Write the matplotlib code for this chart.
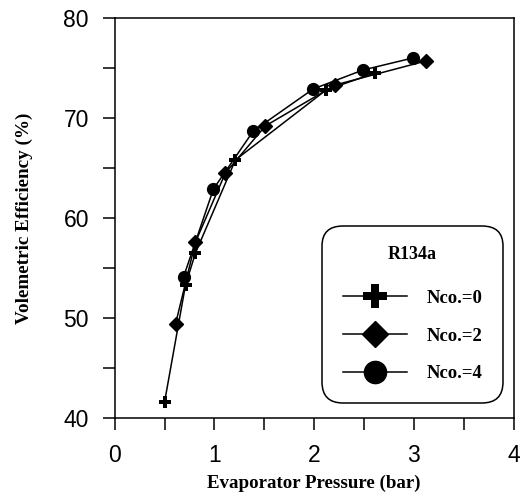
import matplotlib.pyplot as plt
from matplotlib.lines import Line2D
from matplotlib.ticker import MultipleLocator

x_nco0 = [0.50, 0.71, 0.81, 1.21, 2.12, 2.61]
y_nco0 = [41.6, 53.3, 56.5, 65.8, 72.8, 74.5]
x_nco2 = [0.61, 0.81, 1.11, 1.51, 2.21, 3.12]
y_nco2 = [49.4, 57.6, 64.5, 69.2, 73.3, 75.7]
x_nco4 = [0.69, 0.99, 1.39, 1.99, 2.49, 2.99]
y_nco4 = [54.1, 62.9, 68.7, 72.9, 74.8, 76.0]
labels = ['Nco.=0', 'Nco.=2', 'Nco.=4']

serif = 'Liberation Serif'
sans = 'Liberation Sans'

fig = plt.figure(figsize=(5.23, 4.95), dpi=100)
ax = fig.add_axes([0.2193, 0.1556, 0.7629, 0.8081])

ax.plot(x_nco0, y_nco0, color='black', lw=1.1, marker='P', ms=9, mew=0)
ax.plot(x_nco2, y_nco2, color='black', lw=1.1, marker='D', ms=7)
ax.plot(x_nco4, y_nco4, color='black', lw=1.1, marker='o', ms=8.5)

ax.set_xlim(0, 4)
ax.set_ylim(40, 80)
ax.xaxis.set_major_locator(MultipleLocator(1))
ax.xaxis.set_minor_locator(MultipleLocator(0.5))
ax.yaxis.set_major_locator(MultipleLocator(10))
ax.yaxis.set_minor_locator(MultipleLocator(5))
ax.tick_params(which='both', direction='out', length=8.5, width=1.1, pad=10,
               labelsize=16.5)
for t in ax.get_xticklabels() + ax.get_yticklabels():
    t.set_fontfamily(sans)
for s in ax.spines.values():
    s.set_linewidth(1.1)

ax.set_xlabel('Evaporator Pressure (bar)', fontfamily=serif, fontweight='bold',
              fontsize=13.6, labelpad=6)
ax.set_ylabel('Volemetric Efficiency (%)', fontfamily=serif, fontweight='bold',
              fontsize=13.8, labelpad=22)

handles = [
    Line2D([], [], color='black', lw=1.1, marker='P', ms=17, mew=0),
    Line2D([], [], color='black', lw=1.1, marker='D', ms=13),
    Line2D([], [], color='black', lw=1.1, marker='o', ms=16),
]
leg = ax.legend(handles, labels, title='R134a', loc='lower right',
                bbox_to_anchor=(0.973, 0.0375), borderaxespad=0,
                prop={'family': serif, 'weight': 'bold', 'size': 13.5},
                title_fontproperties={'family': serif, 'weight': 'bold', 'size': 13},
                handlelength=3.4, handletextpad=1.05, labelspacing=1.1,
                borderpad=1.1, fancybox=True, framealpha=1, edgecolor='black')
leg.get_frame().set_linewidth(1.1)
leg.get_frame().set_boxstyle('round', pad=0, rounding_size=1.1)
leg._legend_box.sep = 19

fig.savefig('out.png', dpi=100)
